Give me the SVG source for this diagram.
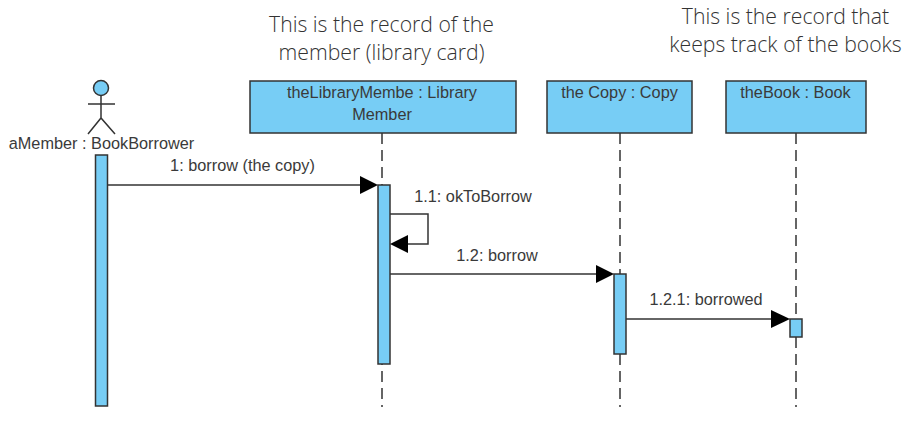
<svg xmlns="http://www.w3.org/2000/svg" width="902" height="439" viewBox="0 0 902 439">
<style>
.box{fill:#77cdf5;stroke:#333;stroke-width:1.5}
.life{stroke:#333;stroke-width:1.5;stroke-dasharray:11 6;fill:none}
.msg{stroke:#333;stroke-width:1.5;fill:none}
.head{fill:#000}
.t{font-family:"Liberation Sans",Arial,sans-serif;font-size:16.3px;fill:#3a3a3a;text-anchor:middle}
.n{font-family:"Open Sans","Noto Sans",sans-serif;font-size:21.200px;font-weight:300;fill:#333;text-anchor:middle}
.fig{stroke:#333;stroke-width:1.5;fill:none}
</style>
<rect width="902" height="439" fill="#fff"/>
<g id="notes">
<text class="n" x="381.500" y="32">This is the record of the</text>
<text class="n" x="381.500" y="60">member (library card)</text>
<text class="n" x="785.500" y="24">This is the record that</text>
<text class="n" x="785.500" y="52">keeps track of the books</text>
</g>
<g id="lifelines">
<path class="life" d="M382 133V407M620 133V407M796 133V407"/>
</g>
<g id="aMember">
<circle cx="101" cy="88" r="7.500" fill="#77cdf5" stroke="#333" stroke-width="1.500"/>
<path class="fig" d="M101 96V118M88 104H115M88 134L101 118L115 134"/>
<text class="t" x="101.500" y="149">aMember : BookBorrower</text>
<rect class="box" x="95.500" y="155" width="12" height="251"/>
</g>
<g id="theLibraryMembe">
<rect class="box" x="250" y="81" width="266" height="52"/>
<text class="t" x="382" y="98">theLibraryMembe : Library</text>
<text class="t" x="382" y="120">Member</text>
<rect class="box" x="378" y="185" width="12" height="179"/>
</g>
<g id="theCopy">
<rect class="box" x="547" y="81" width="145" height="52"/>
<text class="t" x="619.500" y="98">the Copy : Copy</text>
<rect class="box" x="614" y="274" width="12" height="80"/>
</g>
<g id="theBook">
<rect class="box" x="726" y="81" width="140" height="52"/>
<text class="t" x="795.500" y="98">theBook : Book</text>
<rect class="box" x="790" y="319" width="12" height="18"/>
</g>
<g id="connectors">
<path class="msg" d="M108 185H360"/><polygon class="head" points="360,176 378,185 360,194"/>
<text class="t" x="242.500" y="171">1: borrow (the copy)</text>
<path class="msg" d="M390 214H428V244H408"/><polygon class="head" points="408,235 390,244 408,253"/>
<text class="t" x="473" y="202">1.1: okToBorrow</text>
<path class="msg" d="M390 274H596"/><polygon class="head" points="596,265 614,274 596,283"/>
<text class="t" x="497" y="261">1.2: borrow</text>
<path class="msg" d="M626 319H771"/><polygon class="head" points="771,310 790,319 771,328"/>
<text class="t" x="706" y="305">1.2.1: borrowed</text>
</g>
</svg>
